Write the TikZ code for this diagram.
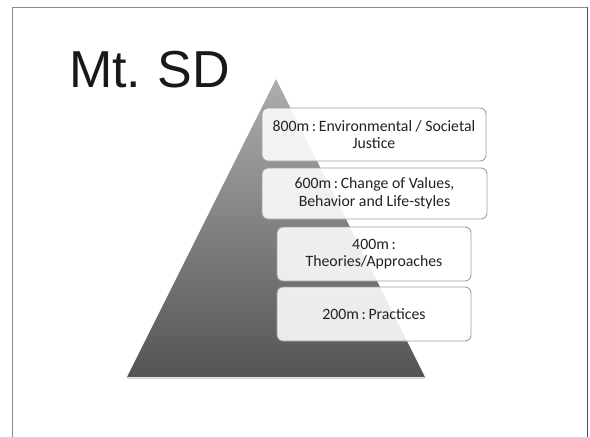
\documentclass[tikz,border=0pt]{standalone}
\usepackage{fontspec}
\setmainfont{Liberation Sans}
\newfontfamily\boxfont{Carlito}
\definecolor{framegray}{HTML}{8A8A8A}
\definecolor{boxline}{HTML}{A0A0A0}
\definecolor{txt}{HTML}{222222}
\tikzset{
  level/.style={draw=boxline, line width=0.9pt, rounded corners=6pt, fill=white, fill opacity=0.88, text opacity=1,
    font=\boxfont\fontsize{15.8}{17.5}\selectfont, text=txt, align=center, inner sep=0pt},
}
\begin{document}
\begin{tikzpicture}[x=1pt,y=-1pt]
\useasboundingbox (0,0) rectangle (590,437);
\fill[white] (0,0) rectangle (590,437);
% frame
\draw[framegray, line width=1.2pt] (12.5,437) -- (12.5,7.5) -- (587.5,7.5);
\draw[black!70, line width=1.8pt] (587.5,7) -- (587.5,437);
% title
\node[anchor=base west, inner sep=0pt, font=\fontsize{52}{60}\selectfont, text=black!90] (title) at (69,87) {Mt.\hspace{-3pt} SD};
% triangle
\shade[top color=black!32, bottom color=black!67] (276,79) -- (425,377) -- (127,377) -- cycle;
\draw[black!20, line width=1pt] (127,378.5) -- (425,378.5);
% levels
\node[level, minimum width=224pt, minimum height=53pt] (l800) at (374,134.5) {800m\,:\,Environmental / Societal\\Justice};
\node[level, minimum width=225pt, minimum height=51pt] (l600) at (374.5,193.5) {600m\,:\,Change of Values,\\Behavior and Life-styles};
\node[level, minimum width=194pt, minimum height=54pt] (l400) at (374,254) {400m\,:\\Theories/Approaches};
\node[level, minimum width=194pt, minimum height=54pt] (l200) at (374,314) {200m\,:\,Practices};
\end{tikzpicture}
\end{document}
